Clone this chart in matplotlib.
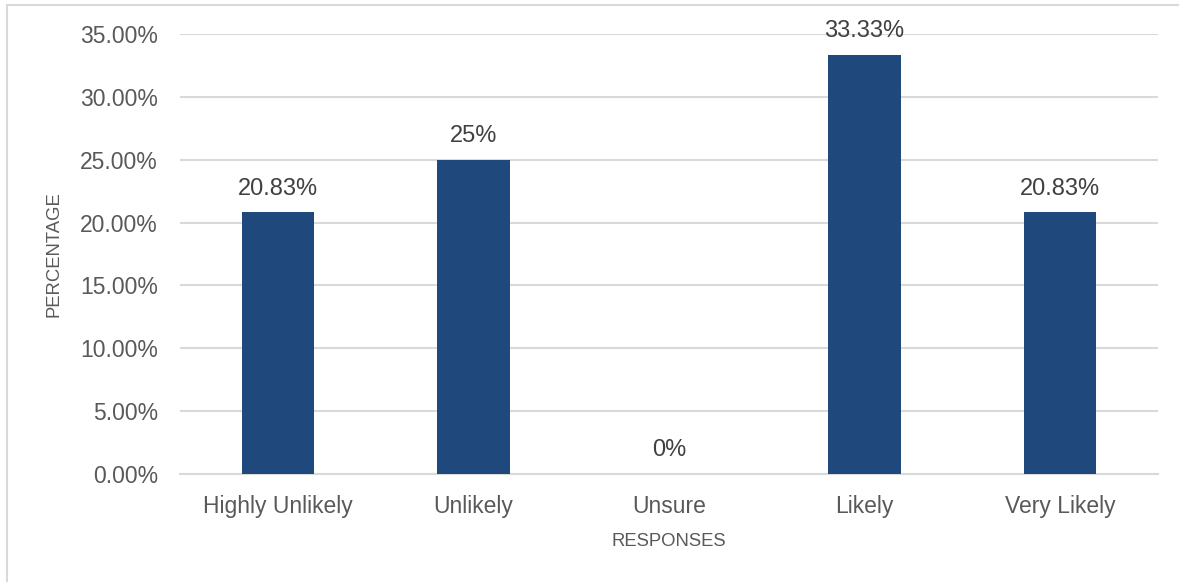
import numpy as np
import matplotlib.pyplot as plt
from matplotlib.patches import Rectangle
from matplotlib.ticker import FuncFormatter

responses = ['Highly Unlikely', 'Unlikely', 'Unsure', 'Likely', 'Very Likely']
percentages = [20.83, 25.0, 0.0, 33.33, 20.83]
value_labels = ['20.83%', '25%', '0%', '33.33%', '20.83%']
y_ticks = [0, 5, 10, 15, 20, 25, 30, 35]

plt.rcParams['font.family'] = ['Liberation Sans', 'DejaVu Sans']

W, H = 1179, 582
fig = plt.figure(figsize=(W / 100, H / 100), dpi=100)
# plot area in pixels: left 180, right 1158, top 34, bottom 474
ax = fig.add_axes([180 / W, 1 - 474 / H, (1158 - 180) / W, (474 - 34) / H])

x = np.arange(len(responses))
ax.bar(x, percentages, width=0.37, color='#1f497d', zorder=3)

for xi, v, lab in zip(x, percentages, value_labels):
    ax.annotate(lab, (xi, v), xytext=(0, 17), textcoords='offset points',
                ha='center', va='center', fontsize=17, color='#404040')

ax.set_xlim(-0.5, len(responses) - 0.5)
ax.set_ylim(0, 35)
ax.set_yticks(y_ticks)
ax.yaxis.set_major_formatter(FuncFormatter(lambda v, p: f'{v:.2f}%'))
ax.set_xticks(x)
ax.set_xticklabels(responses)

ax.grid(axis='y', color='#d9d9d9', linewidth=1.5, zorder=0)
for s in ['top', 'right', 'left']:
    ax.spines[s].set_visible(False)
ax.spines['bottom'].set_color('#d9d9d9')
ax.spines['bottom'].set_linewidth(1.5)

ax.tick_params(axis='x', length=0, pad=15, labelsize=16.5, labelcolor='#595959')
ax.tick_params(axis='y', length=0, pad=16, labelsize=16.5, labelcolor='#595959')

ax.set_xlabel('RESPONSES', fontsize=13.3, color='#595959', labelpad=11)
ax.set_ylabel('PERCENTAGE', fontsize=13.3, color='#595959')
ax.yaxis.set_label_coords(-0.12, 0.5)

# chart frame (only top and left edges visible)
fig.add_artist(Rectangle((7 / W, -0.1), 1.2, 1 - 5 / H + 0.1,
                         transform=fig.transFigure, fill=False,
                         edgecolor='#d9d9d9', linewidth=1.5))

fig.savefig('out.png', dpi=100)
